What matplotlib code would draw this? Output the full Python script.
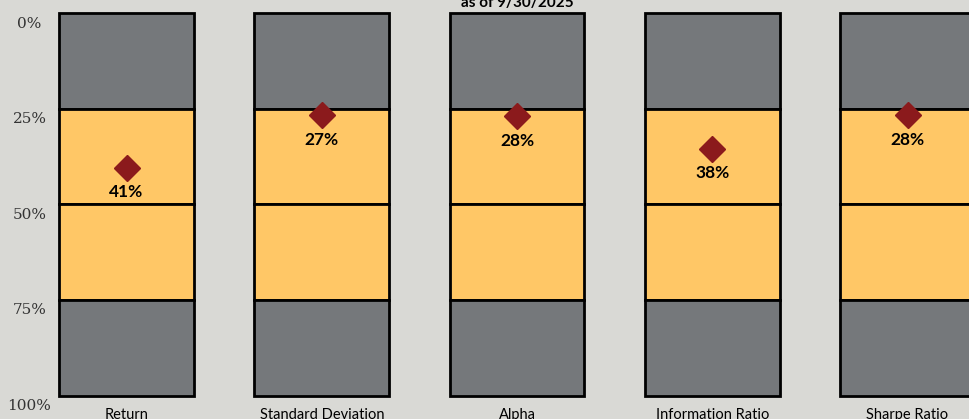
import matplotlib
matplotlib.use("Agg")
import matplotlib.pyplot as plt
import matplotlib.transforms as mtransforms

# ---- data ----
categories = ["Return", "Standard Deviation", "Alpha", "Information Ratio", "Sharpe Ratio"]
band_edges = [0, 25, 50, 75, 100]
band_colors = ["#75787B", "#FFC766", "#FFC766", "#75787B"]
rank_plotted = [40.4, 26.7, 26.9, 35.4, 26.7]     # marker positions
rank_labels = [41, 27, 28, 38, 28]               # printed percentile labels
ytick_values = [0, 25, 50, 75, 100]
ytick_labels = ["0%", "25%", "50%", "75%", "100%"]
subtitle = "as of 9/30/2025"

BG = "#D9D9D5"
W, H, DPI = 970, 419, 100

fig = plt.figure(figsize=(W / DPI, H / DPI), dpi=DPI, facecolor=BG)
ax_left, ax_right, ax_top, ax_bottom = 28.9, 970, 13.5, 395.5
ax = fig.add_axes([ax_left / W, (H - ax_bottom) / H,
                   (ax_right - ax_left) / W, (ax_bottom - ax_top) / H])
ax.set_facecolor(BG)
ax.patch.set_alpha(0)

x = list(range(len(categories)))
for lo, hi, col in zip(band_edges[:-1], band_edges[1:], band_colors):
    ax.bar(x, [hi - lo] * len(x), bottom=lo, width=0.69, color=col,
           edgecolor="black", linewidth=2, clip_on=False, zorder=2)

ax.plot(x, rank_plotted, linestyle="none", marker="D", markersize=13.5,
        color="#8B1A1C", zorder=4, clip_on=False)
for xi, yv, lab in zip(x, rank_plotted, rank_labels):
    ax.annotate(f"{lab}%", (xi, yv), xytext=(0, -17.5), textcoords="offset points",
                ha="center", va="center", fontsize=12.5, fontweight="bold",
                family="Lato", color="black", zorder=5)

ax.set_xlim(-0.5, (ax_right - 126.5) / 195.25)
ax.set_ylim(100, 0)
for s in ax.spines.values():
    s.set_visible(False)
ax.set_yticks([])
ax.set_xticks(x)
ax.set_xticklabels(categories, fontsize=10.5, family="Lato", color="black")
ax.tick_params(axis="x", length=0, pad=9)

# y labels placed left, shifted down
trans = mtransforms.blended_transform_factory(fig.transFigure, ax.transData) + \
    mtransforms.ScaledTranslation(0, -10.3 / DPI, fig.dpi_scale_trans)
for v, lab in zip(ytick_values, ytick_labels):
    ax.text(29.5 / W, v, lab, transform=trans, ha="center", va="center",
            fontsize=11, family="DejaVu Serif", color="#333333", clip_on=False)

fig.text(517.5 / W, 1 - 7.5 / H, subtitle, ha="center", va="baseline",
         fontsize=11, fontweight="bold", family="Lato", color="black")

fig.savefig("out.png", dpi=DPI, facecolor=BG)
